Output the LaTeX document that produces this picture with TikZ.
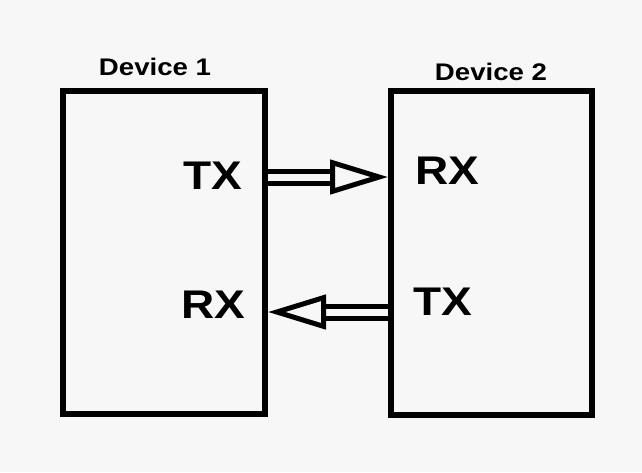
\documentclass[tikz,border=0pt]{standalone}
\usepackage{fontspec}
\setmainfont{Liberation Sans}
\newfontfamily\diagfont[FakeStretch=1.15]{Liberation Sans}
\usetikzlibrary{arrows.meta,positioning}
\definecolor{paper}{HTML}{F7F7F7}
\tikzset{
    device/.style   = {rectangle, draw=black, line width=6pt, fill=paper, inner sep=0pt,
                       minimum width=202pt, minimum height=323pt},
    devlabel/.style = {inner sep=0pt, font=\diagfont\fontsize{24}{24}\selectfont\bfseries},
    pinlabel/.style = {inner sep=0pt, font=\diagfont\fontsize{40}{40}\selectfont\bfseries}
}

\begin{document}
\begin{tikzpicture}[
        x=1pt, y=-1pt,
        bus/.style = {draw=black, line width=5pt, double=paper, double distance=7pt,
                      -{Triangle[open, length=58pt, width=34pt, line width=5pt]}}
    ]
        % Paper
        \fill[paper] (0,0) rectangle (642,472);

        % Devices
        \node[device] (dev1) at (164, 252.5) {};
        \node[device, minimum width=201pt, minimum height=324pt] (dev2) at (491.5, 253) {};
        \node[devlabel] (name1) at (155, 67) {Device 1};
        \node[devlabel] (name2) at (491, 72) {Device 2};

        % Pins
        \node[pinlabel] (tx1) at (213, 176) {TX};
        \node[pinlabel] (rx1) at (213, 305) {RX};
        \node[pinlabel] (rx2) at (447, 171) {RX};
        \node[pinlabel] (tx2) at (443, 302) {TX};

        % Links
        \draw[bus] ([yshift=-1pt]tx1.center -| dev1.east) -- ([yshift=-1pt]tx1.center -| dev2.west);
        \draw[bus] ([yshift=-10pt]tx2.center -| dev2.west) -- ([yshift=-10pt]tx2.center -| dev1.east);

    \end{tikzpicture}
\end{document}
